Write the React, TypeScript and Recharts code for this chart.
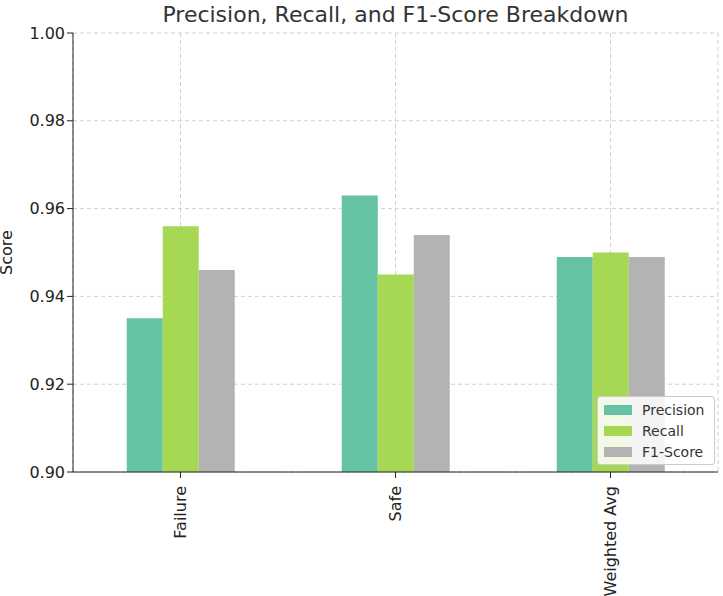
import React from "react";
import { BarChart, Bar, XAxis, YAxis, CartesianGrid } from "recharts";

const categories = ["Failure", "Safe", "Weighted Avg"];
const precision = [0.935, 0.963, 0.949];
const recall = [0.956, 0.945, 0.95];
const f1Score = [0.946, 0.954, 0.949];
const yTicks = [0.9, 0.92, 0.94, 0.96, 0.98, 1.0];

const series = [
  { key: "Precision", color: "#66c2a5" },
  { key: "Recall", color: "#a6d854" },
  { key: "F1-Score", color: "#b3b3b3" },
];

const data = categories.map((c, i) => ({
  name: c,
  Precision: precision[i],
  Recall: recall[i],
  "F1-Score": f1Score[i],
}));

const font = "DejaVu Sans, sans-serif";

function RotatedTick(props: any) {
  const { x, y, payload } = props;
  return (
    <text
      x={x}
      y={y + 6}
      transform={`rotate(-90, ${x}, ${y + 6})`}
      textAnchor="end"
      dominantBaseline="central"
      fontSize={16}
      fill="#222"
      fontFamily={font}
    >
      {payload.value}
    </text>
  );
}

function LegendBox() {
  return (
    <div
      style={{
        position: "absolute",
        left: 597,
        top: 396,
        width: 102,
        background: "rgba(255,255,255,0.85)",
        border: "1px solid #ccc",
        borderRadius: 3,
        padding: "2px 8px 2px 6px",
        fontFamily: font,
        fontSize: 14,
        color: "#333",
      }}
    >
      {series.map((s) => (
        <div key={s.key} style={{ display: "flex", alignItems: "center", height: 21 }}>
          <div style={{ width: 28, height: 10, background: s.color, marginRight: 10 }} />
          {s.key}
        </div>
      ))}
    </div>
  );
}

export default function App() {
  return (
    <div style={{ position: "fixed", left: 0, top: 0, width: 723, height: 596, background: "#fff" }}>
      <div
        style={{
          position: "absolute",
          top: 2,
          left: 73,
          width: 645,
          textAlign: "center",
          fontFamily: font,
          fontSize: 22,
          color: "#333",
        }}
      >
        Precision, Recall, and F1-Score Breakdown
      </div>
      <BarChart
        width={723}
        height={596}
        data={data}
        margin={{ top: 33, right: 5, bottom: 0, left: 0 }}
        barCategoryGap="25%"
        barGap={0}
      >
        <CartesianGrid stroke="#d0d0d0" strokeDasharray="4 3" />
        <XAxis
          dataKey="name"
          height={124}
          tick={<RotatedTick />}
          tickLine={{ stroke: "#222" }}
          axisLine={{ stroke: "#222" }}
          interval={0}
        />
        <YAxis
          width={73}
          domain={[0.9, 1.0]}
          ticks={yTicks}
          allowDataOverflow
          tickFormatter={(v: number) => v.toFixed(2)}
          tick={{ fontSize: 16, fill: "#222", fontFamily: font }}
          tickLine={{ stroke: "#222" }}
          axisLine={{ stroke: "#222" }}
          label={{
            value: "Score",
            angle: -90,
            position: "insideLeft",
            offset: 6,
            style: { fontSize: 16, fill: "#222", fontFamily: font, textAnchor: "middle" },
          }}
        />
        {series.map((s) => (
          <Bar key={s.key} dataKey={s.key} fill={s.color} isAnimationActive={false} />
        ))}
      </BarChart>
      <LegendBox />
    </div>
  );
}
